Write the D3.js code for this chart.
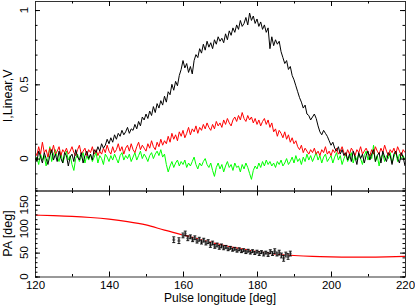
<!DOCTYPE html>
<html><head><meta charset="utf-8">
<script src="https://cdn.jsdelivr.net/npm/d3@7"></script>
<style>
html,body{margin:0;padding:0;background:#fff;}
svg{display:block;}
text{font-family:"Liberation Sans",Arial,Helvetica,sans-serif;font-size:11.5px;fill:#000;}
</style></head><body>
<svg id="c" width="415" height="306"></svg>
<script>
// ---- data ----
const lonStart = 120, lonStep = 0.5;
const intensityI = [
 0.03,-0.02,0.05,0.01,-0.03,0.04,0.00,-0.04,0.02,0.06,
 -0.01,0.03,-0.02,0.05,0.00,-0.03,0.04,0.02,-0.05,0.01,
 0.03,-0.02,0.06,0.01,-0.01,0.04,-0.03,0.02,0.05,0.00,
 0.03,-0.01,0.06,0.04,0.08,0.05,0.10,0.07,0.09,0.13,
 0.10,0.14,0.11,0.16,0.13,0.17,0.15,0.19,0.16,0.18,
 0.21,0.17,0.20,0.19,0.23,0.20,0.25,0.22,0.28,0.26,
 0.30,0.27,0.32,0.29,0.35,0.31,0.37,0.34,0.39,0.36,
 0.42,0.38,0.45,0.43,0.50,0.46,0.52,0.49,0.56,0.60,
 0.66,0.61,0.64,0.58,0.62,0.57,0.66,0.70,0.68,0.74,
 0.71,0.77,0.73,0.79,0.75,0.78,0.74,0.80,0.77,0.82,
 0.79,0.81,0.78,0.84,0.80,0.86,0.83,0.88,0.85,0.90,
 0.87,0.93,0.89,0.91,0.95,0.90,0.98,0.93,0.96,0.91,
 0.94,0.89,0.92,0.87,0.90,0.85,0.88,0.74,0.82,0.76,
 0.80,0.77,0.79,0.72,0.68,0.64,0.66,0.60,0.62,0.56,
 0.53,0.49,0.45,0.41,0.38,0.34,0.36,0.30,0.29,0.26,
 0.28,0.30,0.27,0.22,0.18,0.16,0.19,0.17,0.15,0.12,
 0.09,0.11,0.07,0.05,0.08,0.03,0.06,0.02,0.04,-0.01,
 0.03,-0.02,0.05,0.01,-0.04,0.04,0.00,0.03,-0.03,0.02,
 0.05,-0.01,0.03,0.06,-0.02,0.02,0.04,-0.03,0.05,0.01,
 -0.02,0.04,0.02,-0.04,0.03,0.05,0.00,-0.03,0.04,0.01,
 -0.05];
const linearL = [
 0.05,0.02,0.08,0.03,0.11,0.04,0.06,0.01,0.07,0.04,
 0.09,0.03,0.05,0.08,0.02,0.06,0.04,0.07,0.03,0.05,
 0.08,0.04,0.02,0.06,0.09,0.03,0.05,0.07,0.02,0.06,
 0.04,0.08,0.03,0.06,0.02,0.05,0.03,0.07,0.04,0.09,
 0.05,0.03,0.08,0.04,0.06,0.10,0.05,0.08,0.03,0.07,
 0.09,0.05,0.10,0.06,0.04,0.08,0.11,0.06,0.09,0.07,
 0.05,0.10,0.07,0.12,0.08,0.06,0.11,0.08,0.13,0.09,
 0.12,0.10,0.15,0.11,0.17,0.13,0.16,0.12,0.18,0.15,
 0.19,0.14,0.17,0.21,0.16,0.20,0.18,0.22,0.17,0.21,
 0.19,0.23,0.20,0.24,0.21,0.19,0.23,0.20,0.25,0.22,
 0.24,0.21,0.26,0.23,0.27,0.24,0.22,0.26,0.28,0.25,
 0.29,0.26,0.31,0.27,0.25,0.29,0.26,0.28,0.24,0.27,
 0.23,0.26,0.22,0.25,0.27,0.23,0.26,0.21,0.24,0.18,
 0.20,0.15,0.19,0.17,0.14,0.18,0.13,0.16,0.11,0.14,
 0.10,0.12,0.08,0.06,0.09,0.04,0.07,0.05,0.03,0.06,
 0.04,0.07,0.03,0.05,0.02,0.06,0.04,0.08,0.03,0.05,
 0.02,0.06,0.04,0.07,0.03,0.05,0.08,0.04,0.02,0.06,
 0.03,0.07,0.05,0.02,0.06,0.04,0.08,0.03,0.05,0.07,
 0.04,0.02,0.06,0.03,0.08,0.05,0.03,0.07,0.04,0.09,
 0.05,0.02,0.06,0.04,0.07,0.03,0.08,0.05,0.02,0.06,
 0.04];
const circularV = [
 -0.02,0.01,-0.04,0.03,-0.01,0.02,-0.05,0.00,0.08,-0.02,
 0.03,0.06,0.01,-0.02,0.04,-0.03,0.01,0.05,-0.01,0.02,
 -0.04,-0.08,0.00,0.03,-0.02,0.01,0.04,-0.03,0.02,-0.01,
 0.03,-0.02,0.01,0.04,-0.03,0.02,0.00,-0.04,0.03,0.01,
 -0.02,0.02,-0.01,0.03,0.00,-0.03,0.02,0.04,-0.01,0.02,
 0.00,0.03,-0.02,0.01,0.04,-0.01,0.02,0.05,0.00,0.03,
 0.01,-0.02,0.02,0.04,0.00,0.03,0.05,0.02,0.06,0.01,
 0.03,-0.04,-0.09,-0.05,-0.02,-0.06,-0.03,-0.01,-0.05,-0.02,
 -0.04,-0.01,-0.06,-0.03,-0.05,-0.02,0.01,-0.04,-0.07,-0.03,
 -0.05,-0.02,0.00,-0.04,-0.06,-0.03,-0.08,-0.12,-0.06,-0.03,
 -0.07,-0.04,-0.09,-0.05,-0.02,-0.06,-0.04,-0.08,-0.03,-0.06,
 -0.05,-0.09,-0.04,-0.07,-0.03,-0.06,-0.10,-0.14,-0.08,-0.05,
 -0.07,-0.03,-0.06,-0.02,-0.05,-0.01,-0.04,-0.02,-0.05,-0.03,
 -0.06,-0.02,-0.04,-0.01,-0.05,-0.03,0.00,-0.04,-0.02,0.01,
 -0.03,0.02,-0.02,0.00,-0.04,0.01,-0.02,0.03,-0.01,0.02,
 -0.02,0.01,0.04,-0.01,0.02,-0.03,0.01,0.03,-0.02,0.00,
 0.02,-0.03,0.01,0.04,-0.01,0.02,-0.04,0.00,0.03,-0.02,
 0.01,0.04,-0.03,0.02,-0.01,0.03,0.00,-0.04,0.02,0.05,
 -0.01,0.03,0.00,0.09,-0.02,0.02,-0.05,0.01,0.03,-0.02,
 0.02,0.00,0.04,-0.03,0.01,0.05,-0.02,0.03,0.00,0.02,
 -0.01];
// PA fit curve (RVM), sampled every 5 deg
const fitLon = [120,125,130,135,140,145,150,155,160,165,170,175,180,185,190,195,200,205,210,215,220];
const fitPA  = [128.5,127.5,126,123.5,120,115,108,97,87,77,67,59,52,47,44,42,41,40.5,40.5,41,42];
// PA measurements
const paLon = [157.5,158.9,160.0,160.6,161.3,162.0,162.6,163.2,163.8,164.4,165.0,165.6,166.2,166.8,167.4,168.0,168.6,169.2,169.8,170.4,171.0,171.6,172.2,172.8,173.4,174.0,174.6,175.2,175.8,176.4,177.0,177.6,178.2,178.8,179.4,180.0,180.6,181.2,181.8,182.4,183.0,183.6,184.2,184.8,185.4,186.0,186.6,187.2,187.8,188.4,189.0];
const paVal = [77,75,86,90,80,83,77,81,74,78,72,76,70,73,66,70,63,66,61,64,60,62,57,60,56,58,54,57,53,55,51,54,50,53,49,52,48,51,47,50,46,52,48,53,47,50,44,38,46,42,48];
const paErr = [6,6,5,5,5,4,4,4,4,4,4,4,4,4,5,4,4,4,4,4,4,3,3,3,3,3,3,3,3,3,3,3,3,3,3,3,4,3,4,3,4,4,4,5,4,5,5,6,5,6,5];
const xTicksMajor = [120,140,160,180,200,220];
const yTopTicksMajor = [0,0.5,1];
const yTopTickLabels = ["0","0.5","1"];
const yPATicksMajor = [0,50,100,150];

// ---- layout ----
const svg = d3.select("#c");
const L = 35, R = 405, T1 = 1, B1 = 190.5, T2 = 190.5, B2 = 276.5;
const x = d3.scaleLinear().domain([120,220]).range([L,R]);
const yTop = d3.scaleLinear().domain([-0.215,1.061]).range([B1,T1]);
const yPA = d3.scaleLinear().domain([0,180]).range([B2,T2]);
const lon = intensityI.map((_,i)=>lonStart + i*lonStep);

svg.append("defs").append("clipPath").attr("id","clipTop")
  .append("rect").attr("x",L).attr("y",T1).attr("width",R-L).attr("height",B1-T1);
svg.append("defs").append("clipPath").attr("id","clipBot")
  .append("rect").attr("x",L).attr("y",T2).attr("width",R-L).attr("height",B2-T2);

// top panel lines
const line = d3.line().x((d,i)=>x(lon[i])).y(d=>yTop(d));
const gTop = svg.append("g").attr("clip-path","url(#clipTop)");
gTop.append("path").datum(circularV).attr("d",line).attr("fill","none").attr("stroke","#00ff00").attr("stroke-width",1);
gTop.append("path").datum(linearL).attr("d",line).attr("fill","none").attr("stroke","#ff0000").attr("stroke-width",1);
gTop.append("path").datum(intensityI).attr("d",line).attr("fill","none").attr("stroke","#000").attr("stroke-width",1);

// bottom panel
const gBot = svg.append("g").attr("clip-path","url(#clipBot)");
gBot.append("path").datum(fitPA)
  .attr("d", d3.line().curve(d3.curveMonotoneX).x((d,i)=>x(fitLon[i])).y(d=>yPA(d)))
  .attr("fill","none").attr("stroke","#ff0000").attr("stroke-width",1.2);
const pts = gBot.selectAll("g.pt").data(paVal).join("g").attr("class","pt");
pts.append("circle")
  .attr("cx",(d,i)=>x(paLon[i])).attr("cy",d=>yPA(d)).attr("r",1.6)
  .attr("fill","#888");
pts.append("line")
  .attr("x1",(d,i)=>x(paLon[i])).attr("x2",(d,i)=>x(paLon[i]))
  .attr("y1",(d,i)=>yPA(d-paErr[i])).attr("y2",(d,i)=>yPA(d+paErr[i]))
  .attr("stroke","#000").attr("stroke-width",0.9);
pts.append("line")
  .attr("x1",(d,i)=>x(paLon[i])-1.5).attr("x2",(d,i)=>x(paLon[i])+1.5)
  .attr("y1",(d,i)=>yPA(d-paErr[i])).attr("y2",(d,i)=>yPA(d-paErr[i]))
  .attr("stroke","#000").attr("stroke-width",0.9);
pts.append("line")
  .attr("x1",(d,i)=>x(paLon[i])-1.5).attr("x2",(d,i)=>x(paLon[i])+1.5)
  .attr("y1",(d,i)=>yPA(d+paErr[i])).attr("y2",(d,i)=>yPA(d+paErr[i]))
  .attr("stroke","#000").attr("stroke-width",0.9);

// ---- axes ----
const xMinor = d3.range(120,221,10);
function styleAxis(g){
  g.select(".domain").attr("stroke","#333").attr("stroke-width",1);
  g.selectAll(".tick line").attr("stroke","#000").attr("stroke-width",1);
}
function panelAxes(y, top, bottom, majorY, minorY, labelsY, xLabels){
  let g = svg.append("g").attr("transform",`translate(0,${bottom})`)
    .call(d3.axisBottom(x).tickValues(xMinor).tickSize(-2.5).tickFormat(""));
  styleAxis(g);
  g = svg.append("g").attr("transform",`translate(0,${bottom})`)
    .call(d3.axisBottom(x).tickValues(xTicksMajor).tickSize(-5).tickPadding(4)
      .tickFormat(xLabels ? d3.format("d") : ""));
  styleAxis(g); g.select(".domain").remove();
  g.selectAll("text").attr("font-size",null).attr("font-family",null).attr("fill","#000");
  g = svg.append("g").attr("transform",`translate(0,${top})`)
    .call(d3.axisTop(x).tickValues(xMinor).tickSize(-2.5).tickFormat(""));
  styleAxis(g);
  g = svg.append("g").attr("transform",`translate(0,${top})`)
    .call(d3.axisTop(x).tickValues(xTicksMajor).tickSize(-5).tickFormat(""));
  styleAxis(g); g.select(".domain").remove();
  g = svg.append("g").attr("transform",`translate(${L},0)`)
    .call(d3.axisLeft(y).tickValues(minorY).tickSize(-2.5).tickFormat(""));
  styleAxis(g);
  g = svg.append("g").attr("transform",`translate(${L},0)`)
    .call(d3.axisLeft(y).tickValues(majorY).tickSize(-5).tickFormat(""));
  styleAxis(g); g.select(".domain").remove();
  g = svg.append("g").attr("transform",`translate(${R},0)`)
    .call(d3.axisRight(y).tickValues(minorY).tickSize(-2.5).tickFormat(""));
  styleAxis(g);
  g = svg.append("g").attr("transform",`translate(${R},0)`)
    .call(d3.axisRight(y).tickValues(majorY).tickSize(-5).tickFormat(""));
  styleAxis(g); g.select(".domain").remove();
  svg.append("g").selectAll("text").data(majorY).join("text")
    .attr("transform",d=>`translate(28,${y(d)}) rotate(-90)`)
    .attr("text-anchor","middle")
    .text((d,i)=>labelsY[i]);
}
const topMinor = [-0.2,-0.1,0,0.1,0.2,0.3,0.4,0.5,0.6,0.7,0.8,0.9,1.0];
const paMinor = d3.range(0,181,10);
panelAxes(yTop, T1, B1, yTopTicksMajor, topMinor, yTopTickLabels, false);
panelAxes(yPA, T2, B2, yPATicksMajor, paMinor, yPATicksMajor.map(String), true);

// axis titles
svg.append("text").attr("transform",`translate(12,${(T1+B1)/2}) rotate(-90)`)
  .attr("text-anchor","middle").style("font-size","12.5px").text("I,Linear,V");
svg.append("text").attr("transform",`translate(12,${(T2+B2)/2}) rotate(-90)`)
  .attr("text-anchor","middle").style("font-size","12.5px").text("PA [deg]");
svg.append("text").attr("x",(L+R)/2).attr("y",302).attr("text-anchor","middle").style("font-size","12px").text("Pulse longitude [deg]");
</script></body></html>
